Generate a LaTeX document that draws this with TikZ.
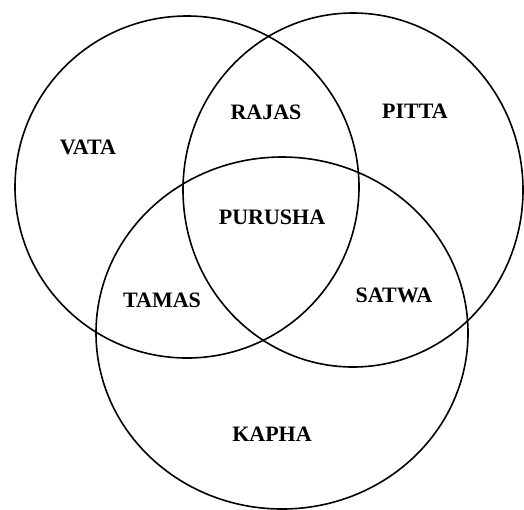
\documentclass[tikz,border=0pt]{standalone}
\usepackage{fontspec}
\setmainfont{Liberation Serif}
\tikzset{lbl/.style={font=\fontsize{22}{26}\selectfont\bfseries,anchor=base,inner sep=0pt}}
\begin{document}
\begin{tikzpicture}[x=1pt,y=-1pt,line width=1.6pt]
\useasboundingbox (0,0) rectangle (524,509);
\coordinate (vata) at (187,187);
\coordinate (pitta) at (353,190);
\coordinate (kapha) at (282,333);
\draw (vata) ellipse [x radius=172,y radius=171];
\draw (pitta) ellipse [x radius=170,y radius=177];
\draw (kapha) ellipse [x radius=186,y radius=176];
\node[lbl] (tvata) at (88,154) {VATA};
\node[lbl] (trajas) at (266,119) {RAJAS};
\node[lbl] (tpitta) at (415,118) {PITTA};
\node[lbl] (tpurusha) at (272,224) {PURUSHA};
\node[lbl] (ttamas) at (162,307) {TAMAS};
\node[lbl] (tsatwa) at (394,302) {SATWA};
\node[lbl] (tkapha) at (272,441) {KAPHA};
\end{tikzpicture}
\end{document}
